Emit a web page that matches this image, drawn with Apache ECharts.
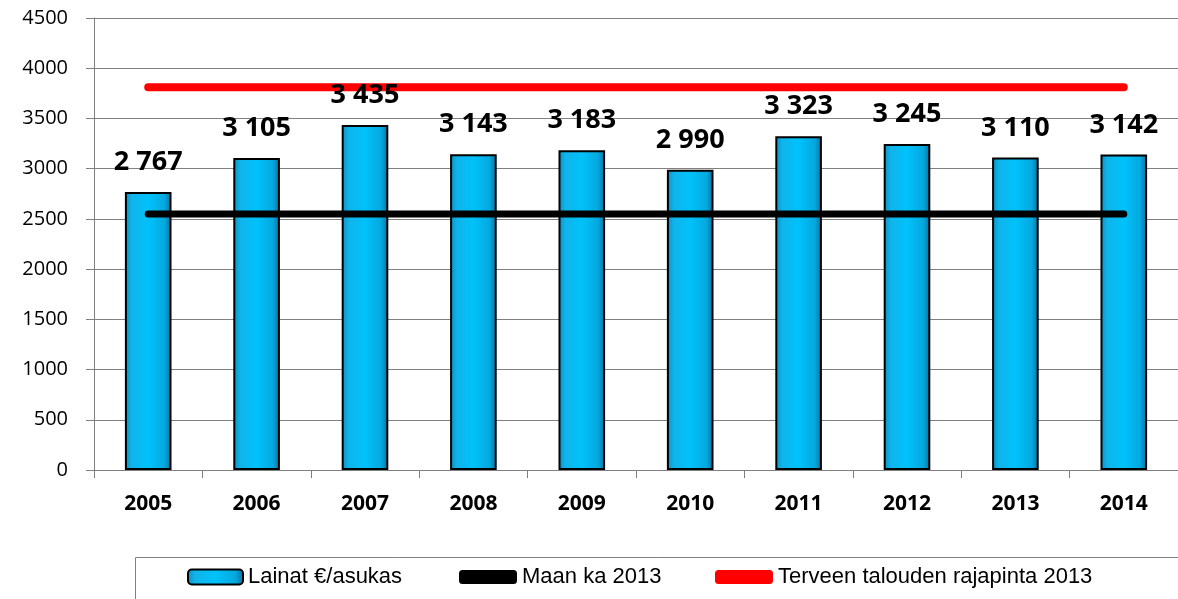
<!DOCTYPE html>
<html><head><meta charset="utf-8">
<script src="https://cdn.jsdelivr.net/npm/echarts@6/dist/echarts.min.js"></script>
<style>html,body{margin:0;padding:0;background:#fff}#c{width:1178px;height:599px}</style>
</head><body><div id="c"></div>
<script>
const categories = ['2005','2006','2007','2008','2009','2010','2011','2012','2013','2014'];
const loans = [2767,3105,3435,3143,3183,2990,3323,3245,3110,3142];
const countryAvg = [2549,2549,2549,2549,2549,2549,2549,2549,2549,2549];
const healthyLimit = [3810,3810,3810,3810,3810,3810,3810,3810,3810,3810];
const yTicks = {min:0, max:4500, interval:500};
const names = ['Lainat €/asukas','Maan ka 2013','Terveen talouden rajapinta 2013'];

const barFill = new echarts.graphic.LinearGradient(0,0,1,0,[
  {offset:0,color:'#0b8fc4'},{offset:0.15,color:'#10b4ea'},{offset:0.5,color:'#00c2fb'},
  {offset:0.85,color:'#05a8de'},{offset:1,color:'#06709c'}]);
const fmt = v => { const s = String(Math.round(v)); return s.length>3 ? s.slice(0,-3)+' '+s.slice(-3) : s; };
const legText = {fontFamily:'Liberation Sans', fontSize:22, color:'#000'};

const chart = echarts.init(document.getElementById('c'));
chart.setOption({
  animation:false,
  grid:{left:94,right:0,top:18,bottom:129},
  graphic:[{type:'rect',shape:{x:135.5,y:557.5,width:1100,height:60},style:{fill:'none',stroke:'#7f7f7f',lineWidth:1}}],
  legend:[
    {data:[names[0]],left:187,top:566,itemWidth:55,itemHeight:15,textStyle:legText,itemGap:0,padding:0,
     itemStyle:{borderColor:'#000',borderWidth:2}},
    {data:[names[1]],left:459,top:566,itemWidth:58,itemHeight:14,textStyle:legText,padding:0,icon:'roundRect'},
    {data:[names[2]],left:715,top:566,itemWidth:58,itemHeight:14,textStyle:legText,padding:0,icon:'roundRect'}
  ],
  xAxis:{type:'category',data:categories,boundaryGap:true,
    axisLine:{lineStyle:{color:'#808080',width:1}},
    axisTick:{show:true,alignWithLabel:false,length:8,lineStyle:{color:'#808080'}},
    axisLabel:{fontFamily:'Open Sans',fontWeight:'bold',fontSize:21,color:'#000',margin:24}},
  yAxis:{type:'value',min:yTicks.min,max:yTicks.max,interval:yTicks.interval,
    axisLine:{show:true,lineStyle:{color:'#808080'}},
    axisTick:{show:true,length:8,lineStyle:{color:'#808080'}},
    splitLine:{lineStyle:{color:'#808080',width:1}},
    axisLabel:{fontFamily:'Open Sans',fontSize:20,color:'#000',margin:26,formatter:v=>String(v)}},
  series:[
    {name:names[0],type:'bar',data:loans,barWidth:'43%',z:3,
     itemStyle:{color:barFill,borderColor:'#000',borderWidth:2},
     label:{show:true,position:'top',distance:16,formatter:p=>fmt(p.value),
       fontFamily:'Open Sans',fontWeight:'bold',fontSize:27,color:'#000'}},
    {name:names[1],type:'line',data:countryAvg,symbol:'none',z:5,
     lineStyle:{color:'#000',width:7,cap:'round'},itemStyle:{color:'#000'}},
    {name:names[2],type:'line',data:healthyLimit,symbol:'none',z:2,
     lineStyle:{color:'#ff0000',width:8,cap:'round'},itemStyle:{color:'#ff0000'}}
  ]
});
</script></body></html>
